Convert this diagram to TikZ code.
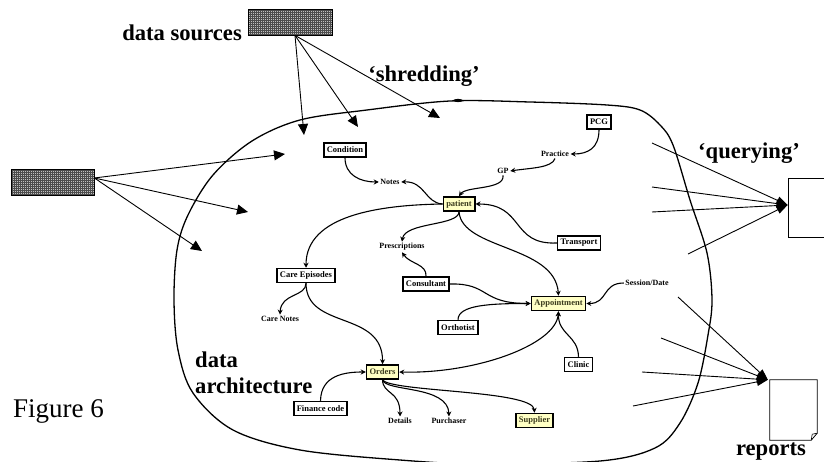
\documentclass[tikz,border=0pt]{standalone}
\usepackage{fontspec}
\setmainfont{Liberation Serif}
\usetikzlibrary{arrows.meta}
\definecolor{ylw}{HTML}{FFFFC4}
\definecolor{ytext}{HTML}{3C3C1E}
\begin{document}
\begin{tikzpicture}[x=1pt,y=-1pt,
 ent/.style={draw, line width=1.5pt, fill=white, font=\fontsize{8.5}{10}\selectfont\bfseries, inner xsep=3pt, inner ysep=0pt, minimum height=14pt},
 yent/.style={ent, fill=ylw, text=ytext},
 lab/.style={font=\fontsize{8}{9}\selectfont\bfseries, inner sep=1.5pt},
 big/.style={font=\fontsize{22.6}{24}\selectfont\bfseries, inner sep=0pt},
 conn/.style={line width=1.1pt, -{Stealth[length=5pt,width=5pt]}},
 feed/.style={line width=0.9pt, -{Triangle[length=11pt,width=10pt]}},
 qline/.style={line width=0.9pt, -{Triangle[length=11pt,width=8pt]}},
 gridbox/.style={draw, line width=0.8pt, fill=black!25, inner sep=0pt, path picture={\draw[black!70, line width=0.5pt, step=2pt] (path picture bounding box.south west) grid (path picture bounding box.north east);}}
]
\useasboundingbox (0,0) rectangle (824,462);
\clip (0,0) rectangle (824,462);

% data architecture boundary
\draw[line width=1.3pt] plot[smooth cycle, tension=0.55] coordinates {
 (174,300) (177,250) (188,215) (213,175) (252,141) (300,120) (367,110) (450,101)
 (530,102) (607,105) (640,110) (660,125) (673,145) (690,200) (707,253) (712,300)
 (708,335) (698,383) (680,423) (655,448) (600,461) (480,464) (400,460) (300,450)
 (233,430) (193,393) (178,350)};
\fill (458,100.5) ellipse (5pt and 1.6pt);

% data sources
\node[gridbox, minimum width=84pt, minimum height=26pt] (ds) at (290,22) {};
\node[gridbox, minimum width=83pt, minimum height=26pt] (src) at (52.5,182) {};
\node[big, anchor=base east] (dslbl) at (242,41) {data sources};
\node[big, anchor=base] (shred) at (424,82) {‘shredding’};

\coordinate (f1) at (304,135);
\coordinate (f2) at (358,127);
\coordinate (f3) at (440,118);
\coordinate (f4) at (285,154);
\coordinate (f5) at (248,212);
\coordinate (f6) at (202,251);
\draw[feed] ([xshift=5pt]ds.south) -- (f1);
\draw[feed] ([xshift=5pt]ds.south) -- (f2);
\draw[feed] ([xshift=5pt]ds.south) -- (f3);
\draw[feed] ([yshift=4pt]src.east) -- (f4);
\draw[feed] ([yshift=4pt]src.east) -- (f5);
\draw[feed] ([yshift=4pt]src.east) -- (f6);

% entities
\node[ent] (cond) at (345,150) {Condition};
\node[ent] (pcg) at (599,122) {PCG};
\node[lab] (practice) at (555,154) {Practice};
\node[lab] (gp) at (503,171) {GP};
\node[lab] (notes) at (390,182) {Notes};
\node[yent] (patient) at (459,204) {patient};
\node[ent] (transport) at (579,243) {Transport};
\node[lab] (presc) at (402,247) {Prescriptions};
\node[ent] (careep) at (306,275.5) {Care Episodes};
\node[ent] (consult) at (426,284) {Consultant};
\node[yent] (appt) at (558.5,303.5) {Appointment};
\node[lab] (session) at (647,283) {Session/Date};
\node[lab] (carenotes) at (280,319) {Care Notes};
\node[ent] (ortho) at (458,327.5) {Orthotist};
\node[ent] (clinic) at (578.5,364.5) {Clinic};
\node[yent] (orders) at (382.5,372) {Orders};
\node[ent] (finance) at (320.5,408.5) {Finance code};
\node[lab] (details) at (400,421) {Details};
\node[lab] (purch) at (449,421) {Purchaser};
\node[yent] (supplier) at (534.5,420.5) {Supplier};

% connectors
\draw[conn] (cond.south) .. controls (345,175) and (360,182) .. (notes.west);
\draw[conn] (patient.west) .. controls (425,203) and (425,181) .. (notes.east);
\draw[conn] (pcg.south) .. controls (599,148) and (588,154) .. (practice.east);
\draw[conn] (practice.south) .. controls (552,168) and (530,168) .. (gp.east);
\draw[conn] (gp.south) .. controls (505,190) and (466,186) .. (patient.north);
\draw[conn] (transport.west) .. controls (510,245) and (525,204) .. (patient.east);
\draw[conn] (patient.west) .. controls (380,205) and (306,215) .. (careep.north);
\draw[conn] (patient.south) .. controls (459,226) and (405,222) .. (presc.north);
\draw[conn] (patient.south) .. controls (462,250) and (555,245) .. (appt.north);
\draw[conn] (consult.north) .. controls (427,264) and (410,264) .. (presc.south);
\draw[conn] (consult.east) .. controls (490,283) and (480,303.5) .. (appt.west);
\draw[conn] (ortho.north) .. controls (458,305) and (490,303.5) .. (appt.west);
\draw[conn] (session.west) .. controls (602,283) and (608,303.5) .. (appt.east);
\draw[conn] (clinic.north) .. controls (578,335) and (558,335) .. (appt.south);
\draw[conn, {Stealth[length=5pt,width=5pt]}-{Stealth[length=5pt,width=5pt]}] (orders.east) .. controls (475,374) and (556,345) .. (appt.south);
\draw[conn] (careep.south) .. controls (306,297) and (281,293) .. (carenotes.north);
\draw[conn] (careep.south) .. controls (306,330) and (383,310) .. (orders.north);
\draw[conn] (finance.north) .. controls (321,375) and (345,372) .. (orders.west);
\draw[conn] (orders.south) .. controls (383,395) and (400,390) .. (details.north);
\draw[conn] (orders.south) .. controls (385,392) and (448,385) .. (purch.north);
\draw[conn] (orders.south) .. controls (390,392) and (533,390) .. (supplier.north);

% labels
\node[big, anchor=base west] (arch1) at (195,367) {data};
\node[big, anchor=base west] (arch2) at (195,393) {architecture};
\node[font=\fontsize{27}{30}\selectfont, inner sep=0pt, anchor=base west] (fig) at (13,417) {Figure 6};

% querying
\node[draw, line width=0.8pt, minimum width=44pt, minimum height=59pt] (qbox) at (810,207.5) {};
\node[big, anchor=base] (qlbl) at (749,159) {‘querying’};
\coordinate (qt) at ([yshift=2.5pt]qbox.west);
\coordinate (q1) at (652,143);
\coordinate (q2) at (652,187);
\coordinate (q3) at (652,212);
\coordinate (q4) at (688,254);
\foreach \q in {q1,q2,q3,q4} \draw[qline] (\q) -- (qt);

% reports
\node[minimum width=47pt, minimum height=60pt, inner sep=0pt] (rep) at (793.5,410) {};
\draw[line width=0.8pt] (rep.north west) -- (rep.north east) -- ([yshift=7pt]rep.south east) -- ([xshift=-6pt]rep.south east) -- (rep.south west) -- cycle;
\draw[line width=0.6pt] ([xshift=-6pt]rep.south east) -- ([xshift=-5pt,yshift=6pt]rep.south east) -- ([yshift=7pt]rep.south east);
\node[big, anchor=base] (replbl) at (771,455) {reports};
\coordinate (rt) at ([xshift=-2pt]rep.north west);
\coordinate (r1) at (678,297);
\coordinate (r2) at (661,338);
\coordinate (r3) at (642,372);
\coordinate (r4) at (633,406);
\foreach \r in {r1,r2,r3,r4} \draw[qline] (\r) -- (rt);
\end{tikzpicture}
\end{document}
